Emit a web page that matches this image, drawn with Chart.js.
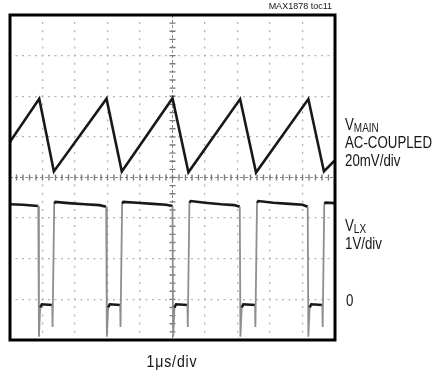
<!DOCTYPE html>
<html>
<head>
<meta charset="utf-8">
<title>MAX1878 toc11</title>
<script src="https://cdn.jsdelivr.net/npm/chart.js@4"></script>
<style>
  html, body { margin: 0; padding: 0; background: #fff; }
  #wrap {
    position: relative; width: 436px; height: 375px;
    font-family: "Liberation Sans", Arial, sans-serif;
    color: #151515;
  }
  #scope { position: absolute; left: 0; top: 0; }
  /* condensed look: regular sans squeezed horizontally */
  .lbl {
    position: absolute; font-size: 16px; line-height: 18px; white-space: nowrap;
    transform: scaleX(0.83); transform-origin: 0 0;
  }
  .lbl sub { font-size: 12px; vertical-align: -2px; line-height: 0; }
  #time {
    position: absolute; left: 172px; top: 353px; font-size: 16px; line-height: 18px;
    white-space: nowrap; letter-spacing: 1px; transform: translateX(-50%) scaleX(0.88);
  }
  #tag { position: absolute; right: 104px; top: 2px; font: 9px/9px "Liberation Sans", Arial, sans-serif; white-space: nowrap; }
</style>
</head>
<body>
<div id="wrap">
  <canvas id="scope" width="436" height="375"></canvas>
  <div id="tag">MAX1878 toc11</div>
  <div class="lbl" style="left:345px; top:116px;">V<sub>MAIN</sub><br>AC-COUPLED<br>20mV/div</div>
  <div class="lbl" style="left:345px; top:217px;">V<sub>LX</sub><br>1V/div</div>
  <div class="lbl" style="left:346px; top:292px;">0</div>
  <div id="time">1μs/div</div>
</div>
<script>
// time axis in divisions (1us/div), voltages in divisions from screen centre
const mainTime  = [0, 0.90, 1.35, 2.97, 3.44, 5.00, 5.49, 7.08, 7.57, 9.18, 9.66, 10];
const mainVolts = [0.88, 1.94, 0.15, 1.94, 0.15, 1.95, 0.13, 1.93, 0.12, 1.93, 0.15, 0.43];

const lxTime = [
  0, 0.40, 0.87,
  0.89, 0.93, 0.98, 1.30, 1.31, 1.36,
  1.40, 1.80, 2.30, 2.75, 2.96,
  2.98, 3.02, 3.07, 3.39, 3.40, 3.45,
  3.49, 3.90, 4.40, 4.80, 5.00,
  5.02, 5.06, 5.11, 5.46, 5.47, 5.52,
  5.56, 6.00, 6.50, 6.90, 7.07,
  7.09, 7.13, 7.18, 7.54, 7.55, 7.60,
  7.64, 8.10, 8.60, 9.00, 9.16,
  9.18, 9.22, 9.27, 9.61, 9.62, 9.67,
  9.71, 10
];
const lxVolts = [
  -0.66, -0.67, -0.70,
  -3.92, -3.20, -3.12, -3.14, -3.68, -0.64,
  -0.60, -0.63, -0.66, -0.68, -0.72,
  -3.92, -3.20, -3.12, -3.14, -3.68, -0.64,
  -0.60, -0.62, -0.65, -0.67, -0.70,
  -3.92, -3.20, -3.12, -3.14, -3.68, -0.62,
  -0.58, -0.62, -0.66, -0.68, -0.72,
  -3.92, -3.20, -3.12, -3.14, -3.68, -0.62,
  -0.58, -0.62, -0.65, -0.67, -0.72,
  -3.92, -3.20, -3.12, -3.14, -3.68, -0.64,
  -0.62, -0.63
];

const toPoints = (xs, ys) => xs.map((x, i) => ({ x: x, y: ys[i] }));

// fast switching edges come out faint on the scope
const isEdge = ctx => {
  const dx = Math.abs(ctx.p1.parsed.x - ctx.p0.parsed.x);
  const dy = Math.abs(ctx.p1.parsed.y - ctx.p0.parsed.y);
  return dy > 10 * dx;
};

const graticule = {
  id: 'graticule',
  beforeDatasetsDraw(chart) {
    const { ctx, chartArea: a, scales: { x, y } } = chart;
    const cx = x.getPixelForValue(5), cy = y.getPixelForValue(0);
    ctx.save();
    ctx.strokeStyle = '#8a8a8a';
    ctx.lineWidth = 1;
    ctx.setLineDash([3, 2]);
    ctx.beginPath();
    ctx.moveTo(a.left, cy); ctx.lineTo(a.right, cy);
    ctx.moveTo(cx, a.top); ctx.lineTo(cx, a.bottom);
    ctx.stroke();
    // minor ticks every 1/5 division on the centre cross
    ctx.setLineDash([]);
    ctx.strokeStyle = '#7a7a7a';
    ctx.lineWidth = 1.4;
    ctx.beginPath();
    for (let i = 1; i < 50; i++) {
      const px = x.getPixelForValue(i / 5);
      ctx.moveTo(px, cy - 3); ctx.lineTo(px, cy + 3);
    }
    for (let i = 1; i < 40; i++) {
      const py = y.getPixelForValue(-4 + i / 5);
      ctx.moveTo(cx - 3, py); ctx.lineTo(cx + 3, py);
    }
    ctx.stroke();
    ctx.restore();
  },
  afterDraw(chart) {
    const { ctx, chartArea: a } = chart;
    ctx.save();
    ctx.strokeStyle = '#000';
    ctx.lineWidth = 3;
    ctx.strokeRect(a.left, a.top, a.right - a.left, a.bottom - a.top);
    ctx.restore();
  }
};

new Chart(document.getElementById('scope'), {
  type: 'line',
  data: {
    datasets: [
      {
        label: 'VMAIN',
        data: toPoints(mainTime, mainVolts),
        borderColor: '#181818',
        borderWidth: 2.6,
        pointRadius: 0,
        tension: 0
      },
      {
        label: 'VLX',
        data: toPoints(lxTime, lxVolts),
        borderColor: '#181818',
        borderWidth: 2.6,
        pointRadius: 0,
        tension: 0,
        segment: {
          borderColor: ctx => isEdge(ctx) ? '#8e8e8e' : undefined,
          borderWidth: ctx => isEdge(ctx) ? 1.8 : undefined
        }
      }
    ]
  },
  options: {
    responsive: false,
    animation: false,
    devicePixelRatio: 1,
    layout: { padding: { left: 10, right: 101, top: 15, bottom: 35 } },
    plugins: { legend: { display: false }, tooltip: { enabled: false } },
    scales: {
      x: {
        type: 'linear', min: 0, max: 10,
        ticks: { display: false, stepSize: 1 },
        grid: {
          drawTicks: false, lineWidth: 1.3,
          color: c => c.tick.value === 5 ? 'rgba(0,0,0,0)' : '#b4b4b4'
        },
        border: { display: false, dash: [2, 6.12], dashOffset: 1 },
        afterFit: s => { s.height = 0; }
      },
      y: {
        type: 'linear', min: -4, max: 4,
        ticks: { display: false, stepSize: 1 },
        grid: {
          drawTicks: false, lineWidth: 1.3,
          color: c => c.tick.value === 0 ? 'rgba(0,0,0,0)' : '#b4b4b4'
        },
        border: { display: false, dash: [2, 4.5], dashOffset: 1 },
        afterFit: s => { s.width = 0; }
      }
    }
  },
  plugins: [graticule]
});
</script>
</body>
</html>
